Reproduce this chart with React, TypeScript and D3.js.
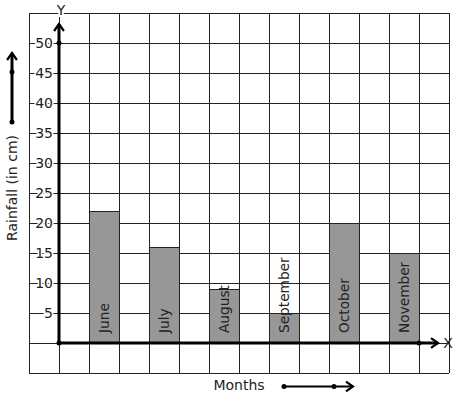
import * as d3 from "d3";

// chart data
const months = ["June", "July", "August", "September", "October", "November"];
const rainfall = [22, 16, 9, 5, 20, 15];
const yTicks = [5, 10, 15, 20, 25, 30, 35, 40, 45, 50];

const W = 457;
const H = 399;
const FONT = "DejaVu Sans, sans-serif";

// grid is 14 columns x 12 rows, each cell = 1 column / 5 cm
const xCol = d3.scaleLinear().domain([0, 14]).range([29, 449]);
const y = d3.scaleLinear().domain([-5, 55]).range([373, 13]);

const Arrow = ({ x, y, dir }: { x: number; y: number; dir: "up" | "right" }) => {
  const s = 7;
  const d =
    dir === "up"
      ? `M${x - s * 0.7},${y + s} L${x},${y} L${x + s * 0.7},${y + s}`
      : `M${x - s},${y - s * 0.7} L${x},${y} L${x - s},${y + s * 0.7}`;
  return <path d={d} fill="none" stroke="#000" strokeWidth={2.2} />;
};

export default function App() {
  const x0 = xCol(1);
  const y0 = y(0);
  const cols = d3.range(0, 15);
  const rows = d3.range(-5, 60, 5);

  return (
    <svg width={W} height={H} style={{ position: "absolute", left: 0, top: 0, background: "#fff" }}>
      <rect width={W} height={H} fill="#fff" />
      {/* grid */}
      <g stroke="#222" strokeWidth={1} shapeRendering="crispEdges">
        {cols.map((c) => (
          <line key={"c" + c} x1={xCol(c)} x2={xCol(c)} y1={y(55)} y2={y(-5)} />
        ))}
        {rows.map((r) => (
          <line key={"r" + r} x1={xCol(0)} x2={xCol(14)} y1={y(r)} y2={y(r)} />
        ))}
      </g>

      {/* bars */}
      {rainfall.map((v, i) => {
        const c = 2 + i * 2;
        const bx = xCol(c);
        const bw = xCol(c + 1) - xCol(c);
        return (
          <g key={months[i]}>
            <rect x={bx} y={y(v)} width={bw} height={y0 - y(v)} fill="#979797" stroke="#222" strokeWidth={1} shapeRendering="crispEdges" />
            <text
              transform={`translate(${bx + bw / 2 + 5},${y0 - 10}) rotate(-90)`}
              fontFamily={FONT}
              fontSize={13.7}
              fill="#222"
            >
              {months[i]}
            </text>
          </g>
        );
      })}

      {/* y tick labels */}
      {yTicks.map((t) => (
        <text
          key={t}
          x={x0 - 6}
          y={y(t) + 5}
          textAnchor="end"
          fontFamily={FONT}
          fontSize={14}
          fill="#222"
          stroke="#fff"
          strokeWidth={3}
          paintOrder="stroke"
        >
          {t}
        </text>
      ))}

      {/* axes */}
      <line x1={x0} x2={x0} y1={y0} y2={24} stroke="#000" strokeWidth={3} />
      <Arrow x={x0} y={24} dir="up" />
      <line x1={x0} x2={438} y1={y0} y2={y0} stroke="#000" strokeWidth={3} />
      <Arrow x={438} y={y0} dir="right" />
      <circle cx={x0} cy={y(50)} r={2.5} fill="#000" />
      <circle cx={x0} cy={y0} r={2.5} fill="#000" />
      <circle cx={xCol(13)} cy={y0} r={2.5} fill="#000" />

      <text x={61} y={15} textAnchor="middle" fontFamily={FONT} fontSize={14} fill="#222" stroke="#fff" strokeWidth={4} paintOrder="stroke">
        Y
      </text>
      <text x={448} y={348} textAnchor="middle" fontFamily={FONT} fontSize={14} fill="#222">
        X
      </text>

      {/* y title with arrow */}
      <text
        transform={`translate(${17},${188}) rotate(-90)`}
        textAnchor="middle"
        fontFamily={FONT}
        fontSize={14}
        fill="#222"
      >
        Rainfall (in cm)
      </text>
      <line x1={12} x2={12} y1={122} y2={53} stroke="#000" strokeWidth={3} />
      <Arrow x={12} y={53} dir="up" />
      <circle cx={12} cy={122} r={2.5} fill="#000" />
      <circle cx={12} cy={72} r={2.5} fill="#000" />

      {/* x title with arrow */}
      <text x={239} y={390} textAnchor="middle" fontFamily={FONT} fontSize={14} fill="#222">
        Months
      </text>
      <line x1={284} x2={353} y1={386.5} y2={386.5} stroke="#000" strokeWidth={2} />
      <Arrow x={353} y={386.5} dir="right" />
      <circle cx={284} cy={386.5} r={2.5} fill="#000" />
      <circle cx={334} cy={386.5} r={2.5} fill="#000" />
    </svg>
  );
}
